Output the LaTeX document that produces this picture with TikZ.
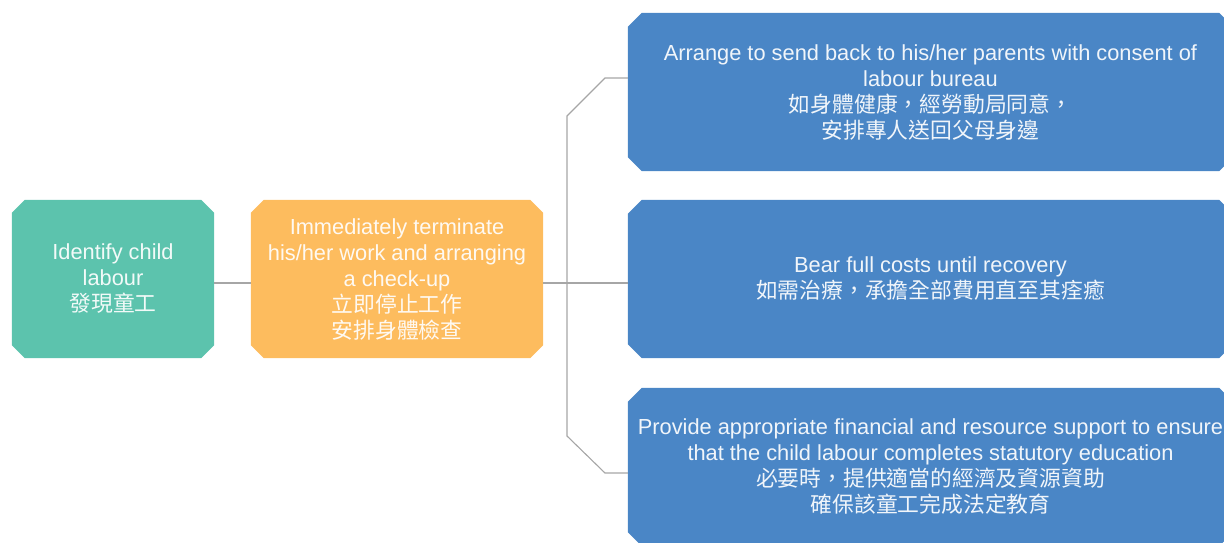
\documentclass[tikz,border=0pt]{standalone}
\usepackage{fontspec}
\setmainfont{Liberation Sans}
\newfontfamily\cjk{Noto Sans CJK TC}
\usetikzlibrary{backgrounds}

\definecolor{stepgreen}{HTML}{5CC3AD}
\definecolor{steporange}{HTML}{FDBC5E}
\definecolor{stepblue}{HTML}{4A86C6}
\definecolor{linkgray}{HTML}{A6A6A6}

\tikzset{
  card/.style={rectangle, inner sep=0pt, draw=none,
    minimum height=158pt, align=center, text=white, text opacity=0.92,
    font=\fontsize{21.8}{26}\selectfont},
  link/.style={draw=linkgray, line width=1.1pt}
}

% octagonal backdrop behind a named node: #1 node, #2 colour, #3 chamfer
\newcommand\cardfill[3]{%
  \fill[#2] ([xshift=#3]#1.north west) -- ([xshift=-#3]#1.north east)
    -- ([yshift=-#3]#1.north east) -- ([yshift=#3]#1.south east)
    -- ([xshift=-#3]#1.south east) -- ([xshift=#3]#1.south west)
    -- ([yshift=#3]#1.south west) -- ([yshift=-#3]#1.north west) -- cycle;}

\begin{document}
\begin{tikzpicture}[x=1pt, y=-1pt]
  \useasboundingbox (0,0) rectangle (1224,542);
  \clip (0,0) rectangle (1224,542);

  % steps
  \node[card, minimum width=202pt] (find) at (113,279)
    {Identify child\\labour\\{\cjk 發現童工}};
  \node[card, minimum width=292pt] (stop) at (397,279)
    {Immediately terminate\\his/her work and arranging\\a check-up\\{\cjk 立即停止工作}\\{\cjk 安排身體檢查}};

  % outcomes
  \node[card, minimum width=605pt] (home) at (930.5,92)
    {Arrange to send back to his/her parents with consent of\\labour bureau\\{\cjk 如身體健康，經勞動局同意，}\\{\cjk 安排專人送回父母身邊}};
  \node[card, minimum width=605pt] (cost) at (930.5,279)
    {Bear full costs until recovery\\{\cjk 如需治療，承擔全部費用直至其痊癒}};
  \node[card, minimum width=605pt] (school) at (930.5,467)
    {Provide appropriate financial and resource support to ensure\\that the child labour completes statutory education\\{\cjk 必要時，提供適當的經濟及資源資助}\\{\cjk 確保該童工完成法定教育}};

  \begin{scope}[on background layer]
    \cardfill{find}{stepgreen}{13pt}
    \cardfill{stop}{steporange}{13pt}
    \cardfill{home}{stepblue}{14pt}
    \cardfill{cost}{stepblue}{14pt}
    \cardfill{school}{stepblue}{14pt}
  \end{scope}

  % connector levels
  \coordinate (mid) at (0,283);
  \coordinate (upper) at (0,78);
  \coordinate (lower) at (0,473);
  \coordinate (bend) at (605,0);

  \draw[link] (find.east |- mid) -- (stop.west |- mid);
  \draw[link] (stop.east |- mid) -- (cost.west |- mid);
  \draw[link] (home.west |- upper) -- (bend |- upper) -- (567,116)
    -- (567,436) -- (bend |- lower) -- (school.west |- lower);
\end{tikzpicture}
\end{document}
